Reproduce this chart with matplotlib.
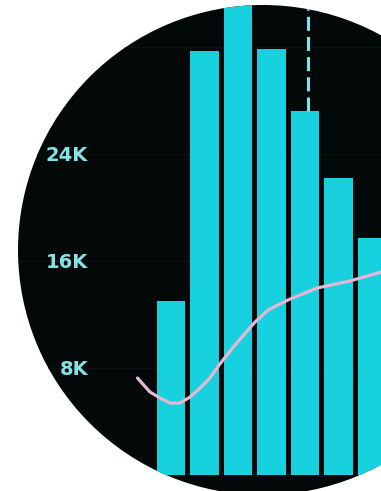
import numpy as np
import matplotlib.pyplot as plt
from matplotlib.patches import Circle

# bar values (thousands)
bars = [13.0, 31.7, 36.0, 31.85, 27.2, 22.2, 17.7]
# trend line: positions in bar units, values in thousands
trend_x = [-1.0, -0.63, -0.33, -0.03, 0.27, 0.57, 0.87, 1.16, 1.46,
           1.91, 2.51, 2.9, 3.49, 4.0, 4.36, 5.34, 6.27]
trend_y = [7.25, 6.21, 5.76, 5.38, 5.38, 5.83, 6.50, 7.25, 8.30,
           9.72, 11.44, 12.34, 13.08, 13.61, 13.98, 14.50, 15.18]
ticks = [8, 16, 24, 32]
tick_labels = ['8K', '16K', '24K', '']
marked = 4  # bar with the dashed marker

BG = '#030909'
CYAN = '#17d2de'

fig = plt.figure(figsize=(3.81, 4.91), dpi=100, facecolor='white')
ax = fig.add_axes([0, 0, 1, 1])
ax.set_facecolor('white')

# round window
disk = Circle((2.63, 2.41), 2.45, transform=fig.dpi_scale_trans,
              facecolor=BG, edgecolor='none', zorder=0)
ax.add_patch(disk)

x = np.arange(len(bars))
rects = ax.bar(x, bars, width=0.84, color=CYAN, zorder=2)

ax.vlines(marked + 0.1, bars[marked], 40, colors='#7fe3ee', lw=2.2,
          linestyles=(0, (4.6, 2.0)), zorder=3)

ln, = ax.plot(trend_x, trend_y, color='#e8b6d4', lw=2.3,
              solid_capstyle='round', solid_joinstyle='round', zorder=4)

ax.set_xlim(-5.104, 6.269)
ax.set_ylim(-1.196, 35.51)

ax.set_xticks([])
ax.set_yticks(ticks)
ax.set_yticklabels(tick_labels)
ax.tick_params(axis='y', length=0, pad=-63.5, labelsize=14,
               labelcolor='#86e2e4')
for t in ax.get_yticklabels():
    t.set_fontweight('bold')
    t.set_zorder(5)
ax.grid(axis='y', color='#0a1313', lw=0.8, zorder=1)
for s in ax.spines.values():
    s.set_visible(False)

for a in list(rects) + [ln] + ax.collections + ax.get_ygridlines():
    a.set_clip_path(disk)

fig.savefig('out.png', dpi=100, facecolor='white')
